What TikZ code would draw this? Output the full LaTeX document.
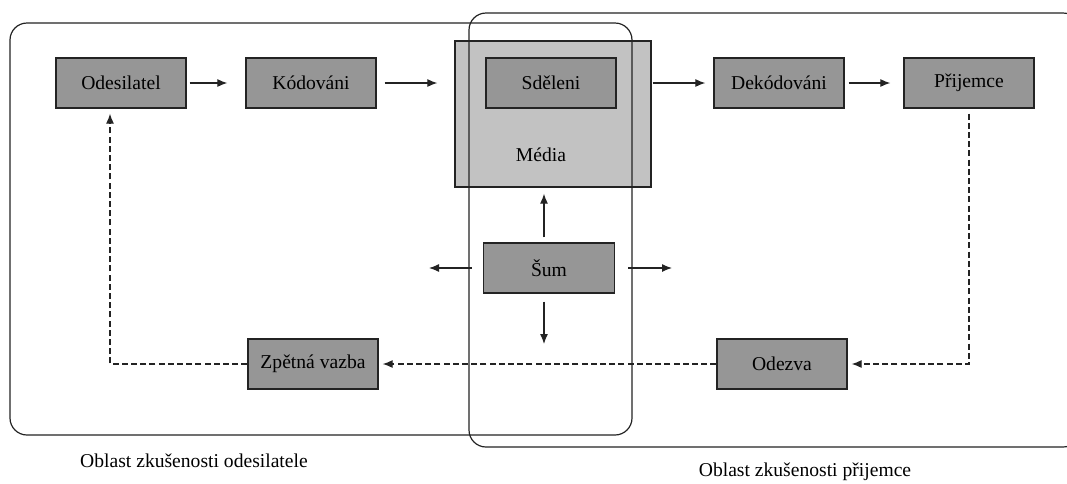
\documentclass[tikz,border=0pt]{standalone}
\usepackage{fontspec}
\setmainfont{Liberation Serif}
\newfontfamily\diagfont{Liberation Serif}
\usetikzlibrary{arrows.meta}
\definecolor{boxgray}{RGB}{150,150,150}
\definecolor{mediagray}{RGB}{194,194,194}
\definecolor{linegray}{RGB}{35,35,35}
\tikzset{
  unit/.style={draw=linegray, line width=0.65pt, fill=boxgray, minimum width=65pt,
    minimum height=25pt, inner sep=0pt, font=\diagfont\fontsize{9.8}{12}\selectfont},
  area/.style={draw=linegray, line width=0.6pt, rounded corners=8.5pt},
  flow/.style={->, line width=0.6pt, draw=linegray},
  back/.style={->, line width=0.6pt, draw=linegray, dash pattern=on 3pt off 1.6pt},
  caption/.style={font=\diagfont\fontsize{9.8}{12}\selectfont},
}

\begin{document}
\begin{tikzpicture}[x=0.5pt, y=-0.5pt, >={Latex[length=5pt,width=4pt]}]
  \useasboundingbox (0,0) rectangle (1067,483);

  % channel block goes under the two areas
  \node[unit, fill=mediagray, minimum width=98pt, minimum height=73pt] (media) at (553,114) {};
  \node[caption] (medialabel) at (541,155) {Média};

  % areas of experience
  \draw[area] (10,23) rectangle (632,435);
  \begin{scope}
    \clip (0,0) rectangle (1067,483);
    \draw[area] (469,13) rectangle (1080,447);
  \end{scope}
  \node[caption] (senderarea) at (194,461) {Oblast zkušenosti odesilatele};
  \node[caption] (receiverarea) at (805,472) {Oblast zkušenosti přijemce};

  % top row
  \node[unit] (odesilatel) at (121,83) {Odesilatel};
  \node[unit] (kodovani) at (311,83) {Kódováni};
  \node[unit] (sdeleni) at (551,83) {Sděleni};
  \node[unit] (dekodovani) at (779,83) {Dekódováni};
  \node[unit] (prijemce) at (969,83) {Přijemce};

  % noise and the way back
  \node[unit, minimum width=65.5pt] (sum) at (549,268) {Šum};
  \node[unit] (zpetna) at (313,364) {Zpětná vazba};
  \node[unit] (odezva) at (782,364) {Odezva};

  \coordinate (noiseW) at (429,268);
  \coordinate (noiseE) at (672,268);
  \coordinate (noiseS) at (544,344);

  \draw[flow, shorten <=1.5pt, shorten >=9pt] (odesilatel) -- (kodovani);
  \draw[flow, shorten <=4pt, shorten >=8.5pt] (kodovani.east) -- (kodovani.east -| media.west);
  \draw[flow, shorten <=0.5pt, shorten >=4pt] (media.east |- dekodovani.west) -- (dekodovani.west);
  \draw[flow, shorten <=2pt, shorten >=6.5pt] (dekodovani) -- (prijemce);

  \draw[flow, shorten <=2.5pt, shorten >=3pt] (sum.north -| noiseS) -- (media.south -| noiseS);
  \draw[flow, shorten <=5.5pt] (sum.west) -- (noiseW);
  \draw[flow, shorten <=6.5pt] (sum.east) -- (noiseE);
  \draw[flow, shorten <=4pt] (sum.south -| noiseS) -- (noiseS);

  \draw[back, shorten <=2.5pt, shorten >=2pt] (prijemce.south) |- (odezva.east);
  \draw[back, shorten >=2pt] (odezva.west) -- (zpetna.east);
  \draw[back, shorten >=2.5pt] (zpetna.west) -| ([xshift=-5.5pt]odesilatel.south);
\end{tikzpicture}
\end{document}
